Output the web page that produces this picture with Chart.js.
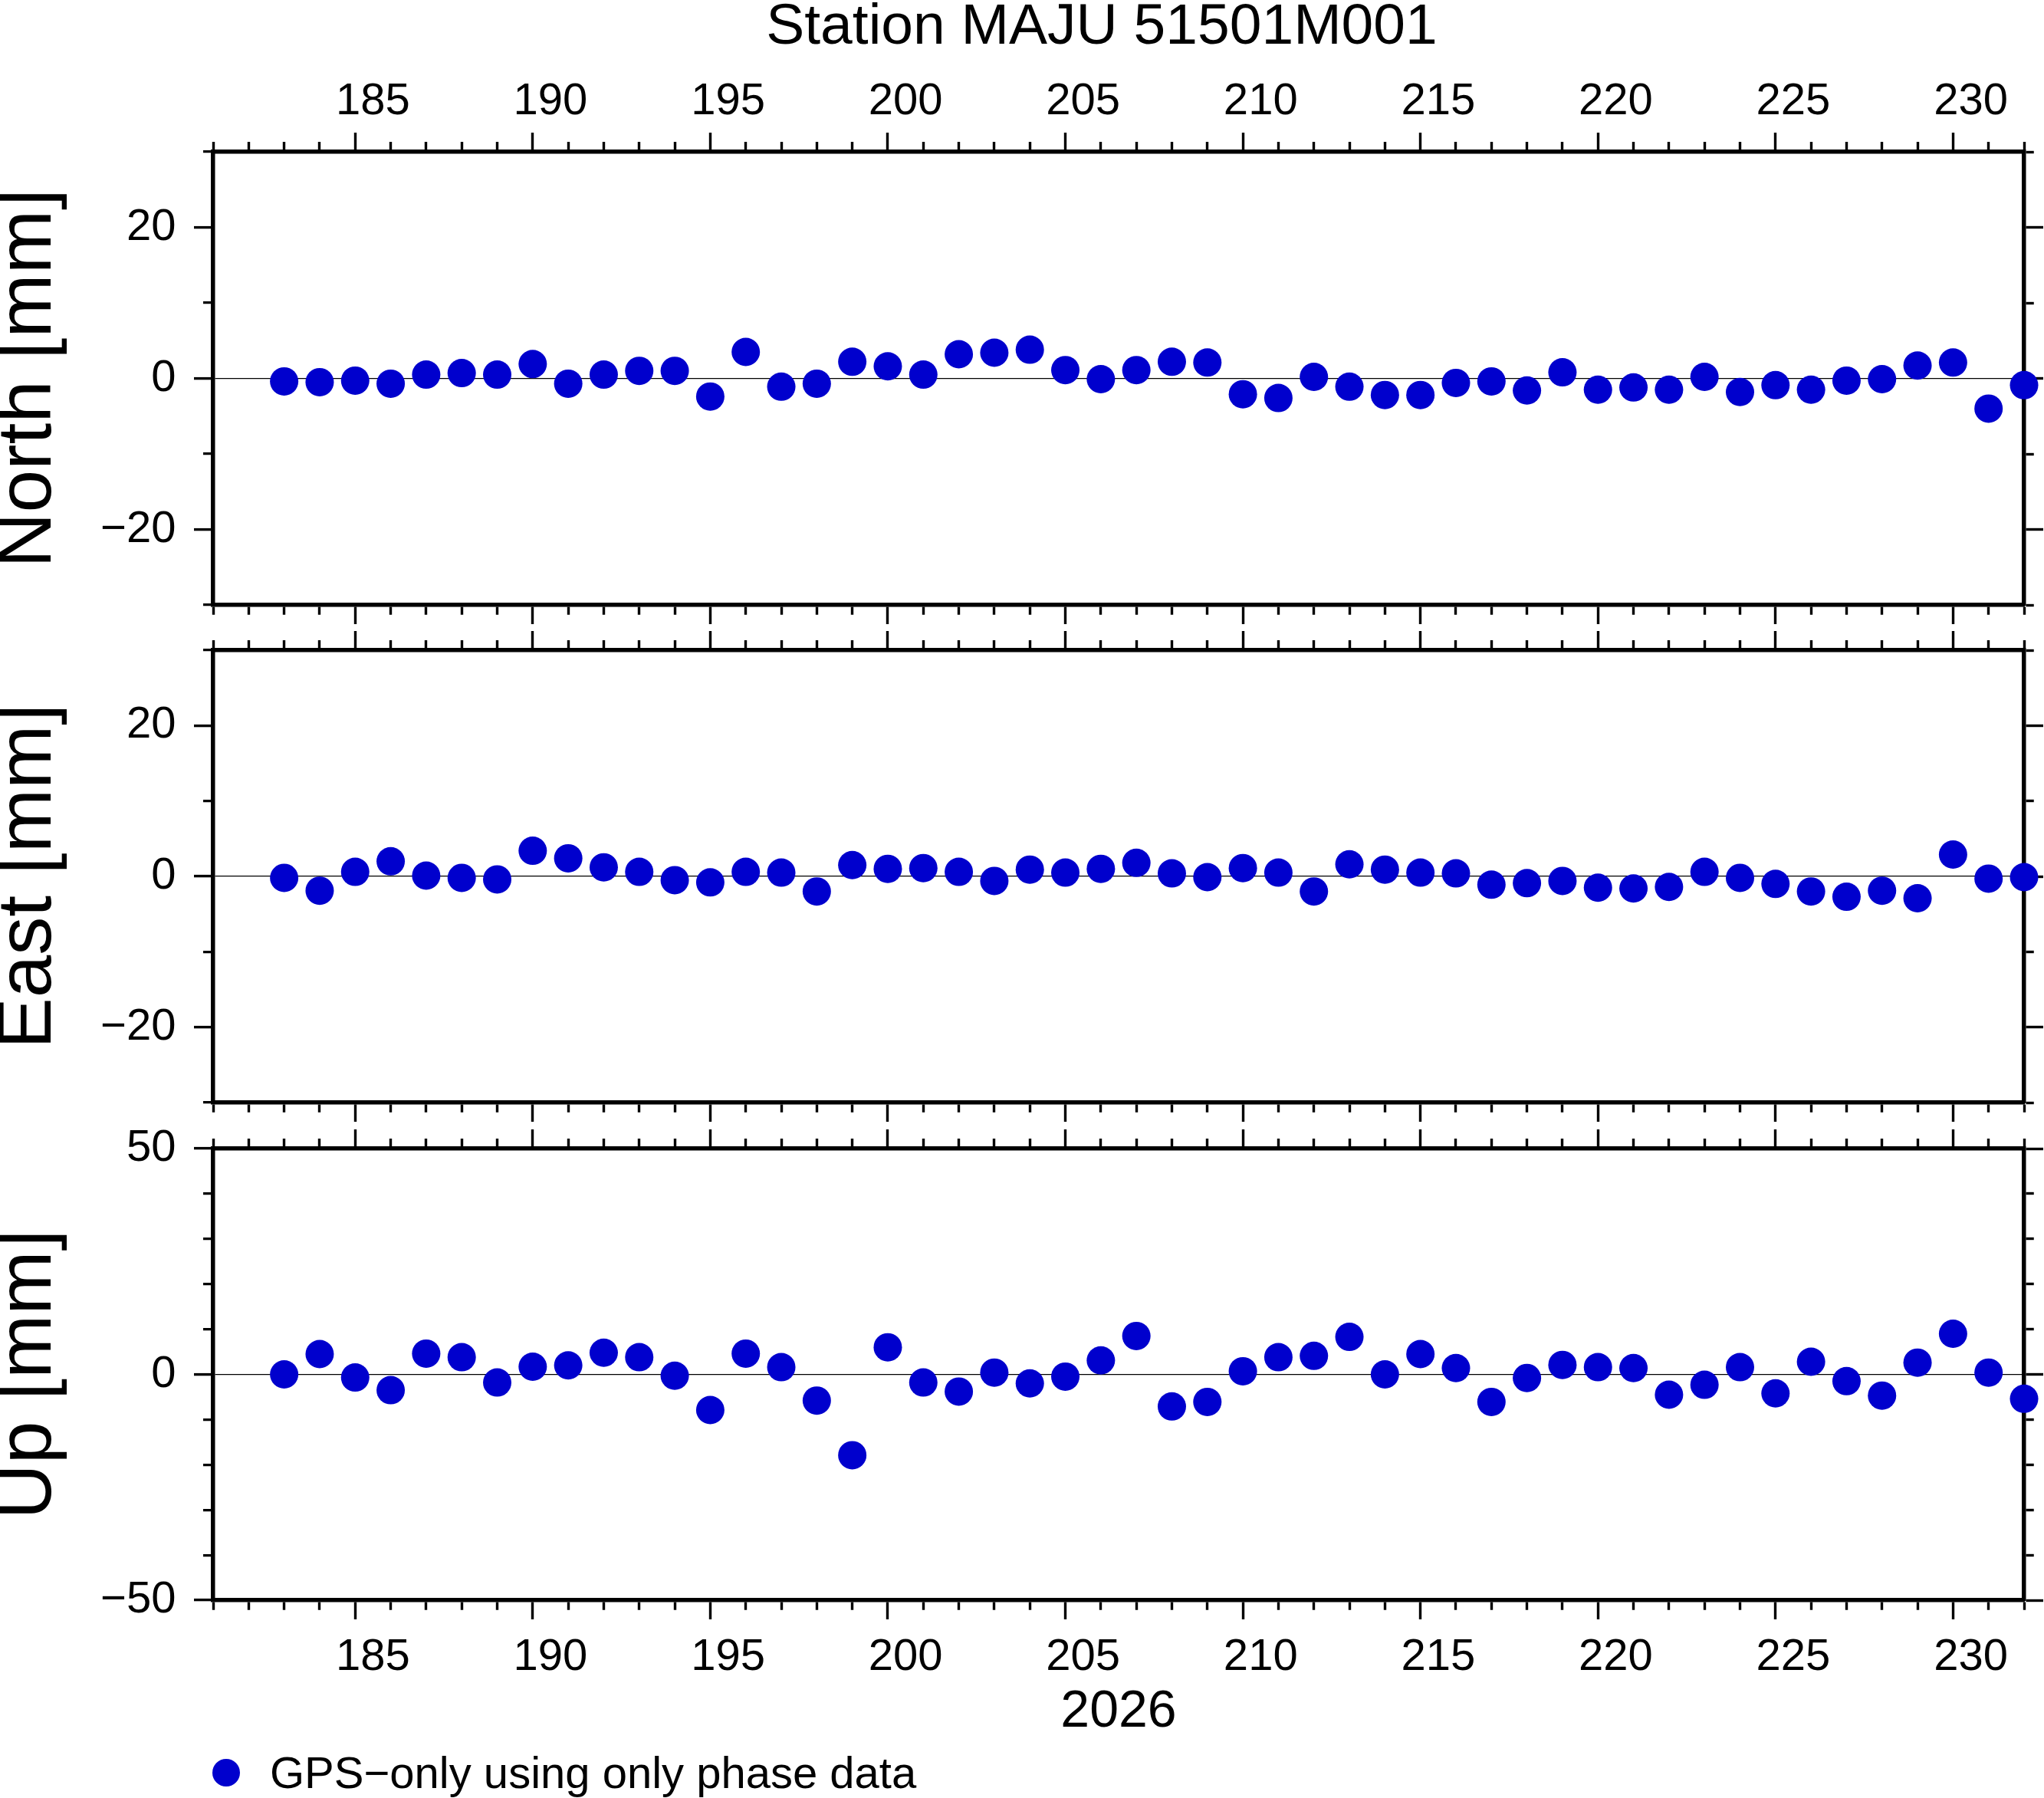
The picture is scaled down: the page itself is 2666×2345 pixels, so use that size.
<!DOCTYPE html>
<html>
<head>
<meta charset="utf-8">
<script src="https://cdn.jsdelivr.net/npm/chart.js@4.4.1/dist/chart.umd.min.js"></script>
<style>
  html, body { margin: 0; padding: 0; background: #fff; overflow: hidden; }
  #page { position: relative; width: 2666px; height: 2345px; overflow: hidden;
          font-family: "Liberation Sans", Arial, sans-serif; color: #000; }
  #page canvas { position: absolute; left: 0; top: 0; }
  .title { position: absolute; left: 437px; width: 2000px; top: -6px; text-align: center;
           font-size: 75px; line-height: 75px; white-space: nowrap; }
  .legend-dot { position: absolute; left: 277px; top: 2294px; width: 36px; height: 36px;
                border-radius: 50%; background: #0000cd; }
  .legend-text { position: absolute; left: 352px; top: 2283px; font-size: 58px; line-height: 58px;
                 white-space: nowrap; }
</style>
</head>
<body>
<div id="page">
  <canvas id="north" width="2666" height="2345"></canvas>
  <canvas id="east" width="2666" height="2345"></canvas>
  <canvas id="up" width="2666" height="2345"></canvas>
  <div class="title" id="title"></div>
  <div class="legend-dot"></div>
  <div class="legend-text" id="legend"></div>
</div>
<script>
// daily solutions, day of year 2026
var days = [183, 184, 185, 186, 187, 188, 189, 190, 191, 192, 193, 194, 195, 196, 197, 198, 199,
            200, 201, 202, 203, 204, 205, 206, 207, 208, 209, 210, 211, 212, 213, 214, 215, 216,
            217, 218, 219, 220, 221, 222, 223, 224, 225, 226, 227, 228, 229, 230, 231, 232];

// residuals in mm
var north = [-0.4, -0.5, -0.3, -0.7, 0.5, 0.7, 0.5, 1.9, -0.7, 0.5, 1.0, 1.0, -2.4, 3.5, -1.1, -0.7, 2.2,
             1.6, 0.5, 3.2, 3.4, 3.8, 1.1, -0.1, 1.1, 2.2, 2.1, -2.1, -2.6, 0.2, -1.1, -2.2, -2.2, -0.6,
             -0.4, -1.6, 0.8, -1.5, -1.2, -1.5, 0.2, -1.8, -0.9, -1.5, -0.3, -0.1, 1.7, 2.1, -4.0, -0.9];
var east = [-0.2, -1.9, 0.6, 2.0, 0.1, -0.2, -0.4, 3.4, 2.4, 1.2, 0.6, -0.5, -0.8, 0.6, 0.5, -2.0, 1.5,
            1.0, 1.1, 0.6, -0.6, 0.9, 0.5, 1.0, 1.8, 0.4, -0.1, 1.1, 0.5, -2.0, 1.6, 0.9, 0.5, 0.4,
            -1.1, -0.9, -0.6, -1.5, -1.6, -1.4, 0.6, -0.2, -1.0, -2.0, -2.7, -1.9, -2.9, 2.9, -0.3, -0.1];
var up = [0.0, 4.5, -0.7, -3.5, 4.6, 3.8, -1.8, 1.7, 2.0, 4.8, 3.8, -0.3, -7.9, 4.6, 1.6, -5.8, -17.9,
          6.0, -1.8, -3.8, 0.4, -2.0, -0.5, 3.1, 8.5, -7.1, -6.1, 0.7, 3.8, 4.1, 8.3, 0.0, 4.5, 1.4,
          -6.1, -0.8, 2.1, 1.6, 1.4, -4.5, -2.3, 1.6, -4.2, 2.8, -1.5, -4.7, 2.6, 9.0, 0.4, -5.4];

var xMin = 181, xMax = 232;
var stationTitle = 'Station MAJU 51501M001';
var seriesName = 'GPS\u2212only using only phase data';
var yearLabel = '2026';

// page layout (px)
var W = 2666, H = 2345;
var plotLeft = 278, plotRight = 2640;
var FRAME = 5.5, MAJOR = 25, MINOR = 13, TICKW = 3.4;
var blue = '#0000cd';
var family = 'Liberation Sans';
var dayPx = (plotRight - plotLeft) / (xMax - xMin);

document.getElementById('title').textContent = stationTitle;
document.getElementById('legend').textContent = seriesName;

function minus(v) { return v < 0 ? '\u2212' + Math.abs(v) : String(v); }
function isMajor(v, step) { return Math.round(v) % step === 0; }

// all ticks are 25px; minor ones are dashed so only the 13px next to the frame shows.
// top/left ticks are stroked from the outside in, bottom/right from the frame out.
function tickDash(c, step, outsideIn) {
  if (!c.tick || isMajor(c.tick.value, step)) return [];
  return outsideIn ? [0, MAJOR - MINOR, 1000, 0] : [MINOR - FRAME / 2, 1000];
}

function dayLabel(v) {
  return (isMajor(v, 5) && v >= 185 && v <= 230) ? String(v) : '';
}

var frame = { display: true, color: '#000', width: FRAME };

function xScale(pos, o) {
  var top = pos === 'top';
  var showLabels = top ? !!o.topLabels : !!o.bottomLabels;
  return {
    type: 'linear', position: pos, min: xMin, max: xMax,
    afterFit: function (s) { s.height = top ? o.top : H - o.bottom; },
    border: frame,
    grid: {
      drawOnChartArea: false, drawTicks: true, tickLength: MAJOR, tickWidth: TICKW, tickColor: '#000',
      tickBorderDash: function (c) { return tickDash(c, 5, top); }
    },
    ticks: {
      display: showLabels, stepSize: 1, autoSkip: false, maxRotation: 0, minRotation: 0,
      labelOffset: dayPx / 2, padding: top ? 5 : 15, color: '#000',
      font: { family: family, size: 58 }, callback: dayLabel
    },
    title: {
      display: !top && !!o.yearTitle, text: yearLabel, color: '#000',
      font: { family: family, size: 68 }, padding: { top: 0, bottom: 71 }
    }
  };
}

function panel(id, values, o) {
  return new Chart(document.getElementById(id), {
    type: 'scatter',
    data: {
      datasets: [{
        label: seriesName,
        data: days.map(function (d, i) { return { x: d, y: values[i] }; }),
        backgroundColor: blue,
        borderWidth: 0,
        pointRadius: 18.5,
        pointHoverRadius: 18.5,
        clip: false
      }]
    },
    options: {
      responsive: false,
      animation: false,
      devicePixelRatio: 1,
      events: [],
      layout: { padding: 0 },
      plugins: { legend: { display: false }, tooltip: { enabled: false }, title: { display: false } },
      scales: {
        x: xScale('bottom', o),
        xt: xScale('top', o),
        y: {
          type: 'linear', position: 'left', min: o.min, max: o.max,
          afterFit: function (s) { s.width = plotLeft; },
          border: frame,
          grid: {
            drawOnChartArea: true,
            color: function (c) { return c.tick && c.tick.value === 0 ? '#000' : 'rgba(0,0,0,0)'; },
            lineWidth: 1.2,
            drawTicks: true, tickLength: MAJOR, tickWidth: TICKW, tickColor: '#000',
            tickBorderDash: function (c) { return tickDash(c, o.major, true); }
          },
          ticks: {
            stepSize: 10, autoSkip: false, padding: 23.5, color: '#000',
            font: { family: family, size: 58 },
            callback: function (v) { return isMajor(v, o.major) ? minus(v) : ''; }
          },
          title: {
            display: true, text: o.title, color: '#000',
            font: { family: family, size: 100, lineHeight: 0.77 }, padding: 0
          }
        },
        yr: {
          type: 'linear', position: 'right', min: o.min, max: o.max,
          afterFit: function (s) { s.width = W - plotRight; },
          border: frame,
          grid: {
            drawOnChartArea: false, drawTicks: true, tickLength: MAJOR, tickWidth: TICKW, tickColor: '#000',
            tickBorderDash: function (c) { return tickDash(c, o.major, false); }
          },
          ticks: { display: false, stepSize: 10, autoSkip: false }
        }
      }
    }
  });
}

panel('north', north, { min: -30, max: 30, major: 20, title: 'North [mm]', top: 198, bottom: 789, topLabels: true });
panel('east', east, { min: -30, max: 30, major: 20, title: 'East [mm]', top: 848, bottom: 1438 });
panel('up', up, { min: -50, max: 50, major: 50, title: 'Up [mm]', top: 1498, bottom: 2087, bottomLabels: true, yearTitle: true });
</script>
</body>
</html>
